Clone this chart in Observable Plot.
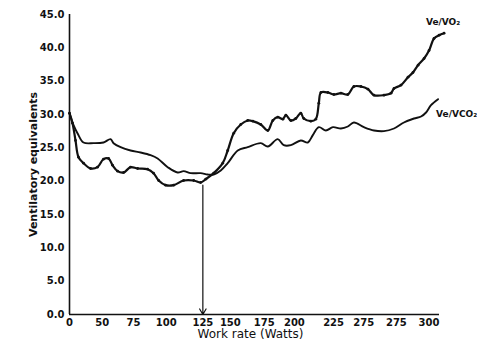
<!DOCTYPE html>
<html>
<head>
<meta charset="utf-8">
<script src="https://cdn.jsdelivr.net/npm/d3@7"></script>
<script src="https://cdn.jsdelivr.net/npm/@observablehq/plot@0.6"></script>
<style>
  html, body { margin: 0; padding: 0; background: #fff; }
  svg { display: block; }
</style>
</head>
<body>
<div id="chart"></div>
<script>
// Ve/VO2 series (x = position along work-rate axis, y = ventilatory equivalent)
const vo2X = [0,2.3,4.6,6.9,10.7,16.1,21.4,26.0,29.9,32.9,36.8,41.4,46.7,52.1,59.7,64.3,68.2,73.5,79.7,87.3,95.0,100.3,104.2,110.3,117.2,121.0,125.6,131.0,136.3,140.2,146.3,151.7,155.5,159.3,163.2,165.5,169.3,173.1,176.9,179.2,184.6,188.4,190.7,192.3,197.6,202.2,207.6,212.9,217.5,222.9,228.3,232.9,240.5,245.9,248.2,253.5,258.9,262.7,266.6,271.2,275.0,278.8,282.7,286.5];
const vo2Y = [30.2,28.7,26.1,23.6,22.7,21.9,22.1,23.3,23.4,22.4,21.5,21.3,22.1,21.9,21.8,21.2,20.1,19.4,19.4,20.1,20.1,19.8,20.3,21.2,22.7,24.6,27.2,28.5,29.1,29.0,28.5,27.6,29.1,29.6,29.3,29.9,29.1,29.4,30.2,29.4,29.0,29.3,31.7,33.3,33.3,33.0,33.2,33.0,34.2,34.2,33.8,32.9,32.9,33.2,33.9,34.4,35.6,36.3,37.4,38.4,39.6,41.4,41.9,42.2];

// Ve/VCO2 series
const vco2X = [0,3.1,6.1,10.7,18.4,26.0,31.4,33.7,39.1,46.7,54.4,62.0,67.4,75.1,82.7,87.3,92.7,100.3,105.7,110.3,115.7,121.0,128.7,136.3,146.3,151.7,159.3,163.9,169.3,176.9,182.3,186.1,190.7,196.1,201.5,207.6,212.9,217.5,225.2,232.9,240.5,248.2,255.8,263.5,268.9,272.7,276.5,281.9];
const vco2Y = [30.2,28.4,27.2,25.8,25.7,25.8,26.3,25.7,25.1,24.6,24.3,23.9,23.4,22.1,21.3,21.5,21.2,21.2,21.0,21.0,21.6,22.7,24.6,25.1,25.7,25.2,26.3,25.4,25.4,26.1,25.8,26.9,28.1,27.6,28.1,27.9,28.2,28.8,28.1,27.6,27.5,27.9,28.8,29.4,29.7,30.3,31.4,32.3];

// Axis ticks (hand-drawn labels as printed)
const xTickPos = [0,25,49,74,102,123,149,172,202,225,250,275];
const xTickLabels = ["0","50","75","100","125","150","175","200","225","275","275","300"];
const yTicks = [0,5,10,15,20,25,30,35,40,45];

// Threshold arrow
const thresholdX = [102];
const thresholdY = [19.4];

const seriesNames = ["Ve/VO\u2082", "Ve/VCO\u2082"];

const vo2 = d3.zip(vo2X, vo2Y).map(([x, y]) => ({x, y}));
const vco2 = d3.zip(vco2X, vco2Y).map(([x, y]) => ({x, y}));
const xLabelMap = new Map(d3.zip(xTickPos, xTickLabels));

const font = "'DejaVu Sans', sans-serif";

const chart = Plot.plot({
  width: 477,
  height: 362,
  marginLeft: 69,
  marginRight: 38,
  marginTop: 14,
  marginBottom: 48,
  style: {fontFamily: font, background: "#fff", color: "#111"},
  x: {domain: [0, 283]},
  y: {domain: [0, 45]},
  marks: [
    Plot.axisY({ticks: yTicks, tickSize: 0, tickPadding: 5, tickFormat: d => d.toFixed(1), label: null, fontWeight: "bold", fontSize: 10}),
    Plot.axisX({ticks: xTickPos, tickSize: 0, tickPadding: 4, tickFormat: d => xLabelMap.get(d), label: null, fontWeight: "bold", fontSize: 10}),
    Plot.ruleX([0], {stroke: "#111", strokeWidth: 1.6}),
    Plot.ruleY([0], {stroke: "#111", strokeWidth: 1.6}),
    Plot.line(vco2, {x: "x", y: "y", stroke: "#111", strokeWidth: 1.9, curve: "catmull-rom"}),
    Plot.line(vo2, {x: "x", y: "y", stroke: "#111", strokeWidth: 2.2, curve: "catmull-rom"}),
    Plot.dot(vo2, {x: "x", y: "y", r: 1.4, fill: "#111"}),
    Plot.arrow(thresholdX.map((x, i) => ({x, y: thresholdY[i]})), {x1: "x", x2: "x", y1: "y", y2: () => 0, stroke: "#111", strokeWidth: 1.2, headLength: 8, insetStart: 0, insetEnd: 0}),
    Plot.text([vo2[vo2.length - 1]], {x: "x", y: "y", text: () => seriesNames[0], dy: -11, dx: -1, fontSize: 9, fontWeight: "bold", fill: "#111"}),
    Plot.text([vco2[vco2.length - 1]], {x: "x", y: "y", text: () => seriesNames[1], dy: 15, dx: -2, textAnchor: "start", fontSize: 9, fontWeight: "bold", fill: "#111"}),
    Plot.text(["Work rate (Watts)"], {frameAnchor: "bottom", textAnchor: "middle", lineAnchor: "top", dy: 15, dx: -4, fontSize: 12, fill: "#111"}),
    Plot.text(["Ventilatory equivalents"], {frameAnchor: "left", textAnchor: "middle", lineAnchor: "middle", rotate: -90, dx: -36, fontSize: 11, fontWeight: "bold", fill: "#111"})
  ]
});

document.getElementById("chart").append(chart);
</script>
</body>
</html>
